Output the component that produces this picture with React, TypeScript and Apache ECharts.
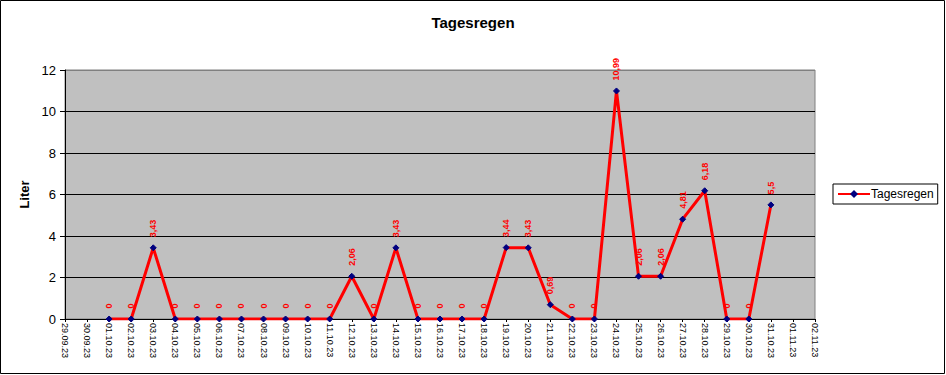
import React, { useEffect, useRef } from "react";
import * as echarts from "echarts";

const categories = [
  "29.09.23", "30.09.23", "01.10.23", "02.10.23", "03.10.23", "04.10.23", "05.10.23",
  "06.10.23", "07.10.23", "08.10.23", "09.10.23", "10.10.23", "11.10.23", "12.10.23",
  "13.10.23", "14.10.23", "15.10.23", "16.10.23", "17.10.23", "18.10.23", "19.10.23",
  "20.10.23", "21.10.23", "22.10.23", "23.10.23", "24.10.23", "25.10.23", "26.10.23",
  "27.10.23", "28.10.23", "29.10.23", "30.10.23", "31.10.23", "01.11.23", "02.11.23",
];

const rainValues: (number | null)[] = [
  null, null,
  0, 0, 3.43, 0, 0, 0, 0, 0, 0, 0, 0, 2.06, 0, 3.43, 0, 0, 0, 0, 3.44, 3.43, 0.69, 0, 0,
  10.99, 2.06, 2.06, 4.81, 6.18, 0, 0, 5.5,
  null, null,
];

const yTicks = [0, 2, 4, 6, 8, 10, 12];

const FONT = "'Liberation Sans', Arial, sans-serif";

export default function App() {
  const ref = useRef<HTMLDivElement>(null);
  useEffect(() => {
    if (!ref.current) return;
    const chart = echarts.init(ref.current, null, { renderer: "svg" });
    chart.setOption({
      animation: false,
      backgroundColor: "#ffffff",
      textStyle: { fontFamily: FONT },
      title: {
        text: "Tagesregen",
        left: "center",
        top: 10,
        textStyle: { fontSize: 15, fontWeight: "bold", color: "#000", fontFamily: FONT },
      },
      legend: {
        left: 833,
        top: 184,
        orient: "vertical",
        borderColor: "#000",
        borderWidth: 1,
        padding: [4, 4, 4, 4],
        itemWidth: 32,
        itemHeight: 10,
        itemGap: 2,
        textStyle: { fontSize: 12, color: "#000", fontFamily: FONT, padding: [0, 0, 0, -4] },
        data: ["Tagesregen"],
      },
      grid: {
        left: 65,
        right: 131,
        top: 70,
        bottom: 56,
        show: true,
        backgroundColor: "#c0c0c0",
        borderColor: "#808080",
        borderWidth: 1,
      },
      graphic: [
        {
          type: "rect",
          shape: { x: 0.5, y: 0.5, width: 944, height: 373 },
          style: { fill: "none", stroke: "#000", lineWidth: 1 },
          silent: true,
        },
      ],
      xAxis: {
        type: "category",
        data: categories,
        boundaryGap: false,
        axisLine: { lineStyle: { color: "#000", width: 1 } },
        axisTick: { show: true, length: 3, interval: 0, lineStyle: { color: "#000" } },
        axisLabel: {
          rotate: -90,
          interval: 0,
          fontSize: 9,
          color: "#000",
          margin: 4,
          fontFamily: FONT,
        },
        splitLine: { show: false },
      },
      yAxis: {
        type: "value",
        min: 0,
        max: 12,
        interval: 2,
        name: "Liter",
        nameLocation: "middle",
        nameGap: 32,
        nameTextStyle: { fontSize: 13, fontWeight: "bold", color: "#000", fontFamily: FONT },
        axisLine: { show: true, lineStyle: { color: "#000" } },
        axisTick: { show: true, length: 5, lineStyle: { color: "#000" } },
        axisLabel: {
          fontSize: 13,
          color: "#000",
          margin: 9,
          fontFamily: FONT,
          formatter: (v: number) => (yTicks.includes(v) ? String(v) : ""),
        },
        splitLine: {
          show: true,
          lineStyle: {
            color: ["#000", "#000", "#000", "#000", "#000", "#000", "#808080"],
            width: 1,
          },
        },
      },
      series: [
        {
          name: "Tagesregen",
          type: "line",
          data: rainValues,
          connectNulls: false,
          symbol: "diamond",
          symbolSize: 6,
          showAllSymbol: true,
          itemStyle: { color: "#000080", borderColor: "#000080" },
          lineStyle: { color: "#ff0000", width: 3 },
          label: {
            show: true,
            position: "top",
            distance: 7,
            rotate: 90,
            align: "left",
            verticalAlign: "middle",
            color: "#ff0000",
            fontSize: 9,
            fontWeight: "bold",
            fontFamily: FONT,
            formatter: (p: any) => String(p.value).replace(".", ","),
          },
        },
      ],
    });
    return () => chart.dispose();
  }, []);
  return (
    <div
      ref={ref}
      style={{ position: "fixed", left: 0, top: 0, width: 946, height: 375 }}
    />
  );
}
